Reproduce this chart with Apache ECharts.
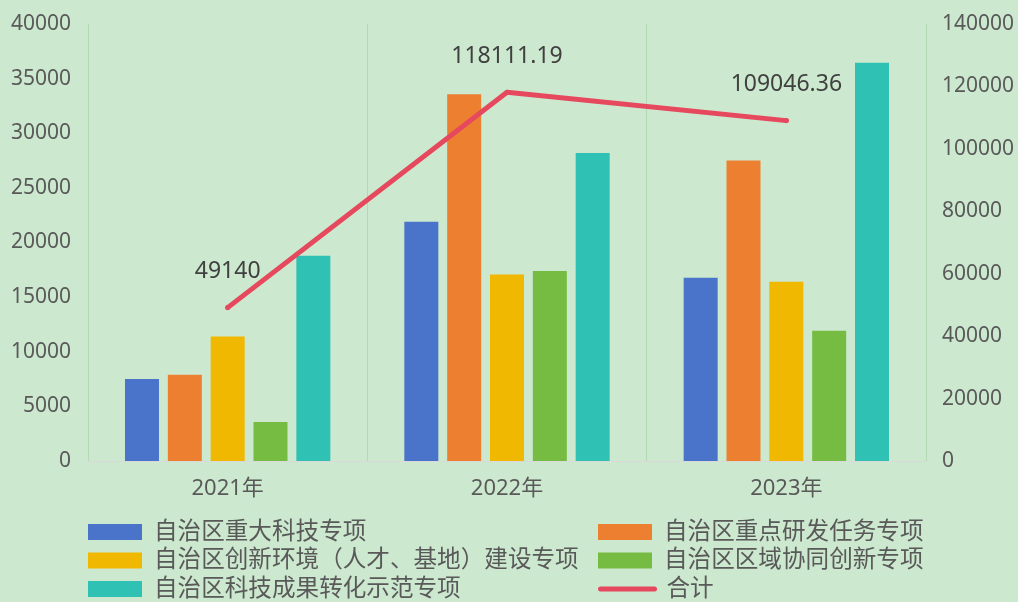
<!DOCTYPE html>
<html>
<head>
<meta charset="utf-8">
<script src="https://cdn.jsdelivr.net/npm/echarts@6/dist/echarts.min.js"></script>
<style>
  html, body { margin: 0; padding: 0; background: #CCE8CF; }
  #main { width: 1018px; height: 602px; }
</style>
</head>
<body>
<div id="main"></div>
<script>
// 数据
var years = ['2021年', '2022年', '2023年'];
var majorProj = [7500, 21900, 16770];       // 自治区重大科技专项
var keyRD = [7900, 33560, 27500];           // 自治区重点研发任务专项
var innovEnv = [11400, 17070, 16400];       // 自治区创新环境（人才、基地）建设专项
var regional = [3560, 17400, 11920];        // 自治区区域协同创新专项
var transfer = [18780, 28181.19, 36456.36]; // 自治区科技成果转化示范专项
var total = [49140, 118111.19, 109046.36];  // 合计
var leftTicks = [0, 40000, 5000];
var rightTicks = [0, 140000, 20000];

var font = '"Noto Sans", "Noto Sans CJK SC", sans-serif';
var chart = echarts.init(document.getElementById('main'));

function barSeries(name, data, color) {
  return {
    name: name,
    type: 'bar',
    barWidth: 34,
    barGap: '26%',
    itemStyle: { color: color },
    data: data
  };
}

function plain(v) { return String(v); }

var legendText = { color: '#595959', fontSize: 23.6, lineHeight: 24, fontFamily: font, padding: [0, 0, 0, 7] };

var option = {
  backgroundColor: '#CCE8CF',
  animation: false,
  grid: { left: 88, right: 92, top: 24, bottom: 141, outerBoundsMode: 'none' },
  legend: [
    {
      orient: 'vertical', left: 88, top: 520, padding: 0,
      itemWidth: 54, itemHeight: 16, itemGap: 4.5, icon: 'rect',
      textStyle: legendText,
      data: ['自治区重大科技专项', '自治区创新环境（人才、基地）建设专项', '自治区科技成果转化示范专项']
    },
    {
      orient: 'vertical', left: 598, top: 520, padding: 0,
      itemWidth: 54, itemHeight: 16, itemGap: 4.5, icon: 'rect',
      textStyle: legendText,
      data: ['自治区重点研发任务专项', '自治区区域协同创新专项']
    },
    {
      orient: 'vertical', left: 598, top: 577, padding: 0,
      itemWidth: 54, itemHeight: 16,
      lineStyle: { width: 5, cap: 'round' },
      itemStyle: { opacity: 0 },
      textStyle: legendText,
      data: ['合计']
    }
  ],
  xAxis: {
    type: 'category',
    data: years,
    axisTick: { show: false },
    axisLine: { lineStyle: { color: '#d9d9d9', width: 1 } },
    splitLine: { show: true, lineStyle: { color: '#b2d8b4', width: 1 } },
    axisLabel: { color: '#595959', fontSize: 22, margin: 17, fontFamily: font }
  },
  yAxis: [
    {
      type: 'value',
      min: leftTicks[0], max: leftTicks[1], interval: leftTicks[2],
      splitLine: { show: false },
      axisLine: { show: false },
      axisTick: { show: false },
      axisLabel: { color: '#595959', fontSize: 21, margin: 17, fontFamily: font, formatter: plain }
    },
    {
      type: 'value',
      min: rightTicks[0], max: rightTicks[1], interval: rightTicks[2],
      splitLine: { show: false },
      axisLine: { show: false },
      axisTick: { show: false },
      axisLabel: { color: '#595959', fontSize: 21, margin: 16, fontFamily: font, formatter: plain }
    }
  ],
  series: [
    barSeries('自治区重大科技专项', majorProj, '#4a74c9'),
    barSeries('自治区重点研发任务专项', keyRD, '#ed8030'),
    barSeries('自治区创新环境（人才、基地）建设专项', innovEnv, '#f0b800'),
    barSeries('自治区区域协同创新专项', regional, '#76bb42'),
    barSeries('自治区科技成果转化示范专项', transfer, '#2fc1b4'),
    {
      name: '合计',
      type: 'line',
      yAxisIndex: 1,
      symbol: 'circle',
      symbolSize: 5,
      itemStyle: { color: '#e6485e' },
      lineStyle: { color: '#e6485e', width: 5, cap: 'round' },
      label: {
        show: true, position: 'top', distance: 22,
        color: '#404040', fontSize: 23, fontFamily: font
      },
      z: 5,
      data: total
    }
  ]
};

chart.setOption(option);
</script>
</body>
</html>
